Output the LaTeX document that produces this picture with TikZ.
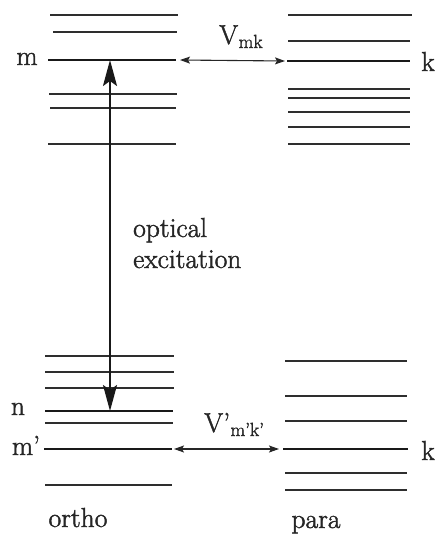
\documentclass[tikz,border=0pt]{standalone}
\usepackage{fontspec}
\setmainfont{Latin Modern Roman}[FakeBold=1.6]
\usetikzlibrary{arrows.meta}
\begin{document}
\begin{tikzpicture}[x=1pt,y=-1pt,
  lvl/.style={line width=1.6pt, black!82},
  mainlvl/.style={line width=2.2pt, black!90},
  harrow/.style={line width=1.1pt, black!85, {Stealth[length=10pt,width=7pt,inset=2pt]}-{Stealth[length=10pt,width=7pt,inset=2pt]}},
  varrow/.style={line width=2pt, black!90, {Stealth[length=26pt,width=14pt,inset=5pt]}-{Stealth[length=26pt,width=14pt,inset=5pt]}},
  lbl/.style={font=\fontsize{27.5}{31}\selectfont, inner sep=0pt, anchor=base, text=black!85},
  sub/.style={font=\fontsize{19}{21}\selectfont, inner sep=0pt, anchor=base west, text=black!85}]
\useasboundingbox (0,0) rectangle (436,544);
% ortho levels
\foreach \y/\a/\b in {15/50/178, 32/53/177, 94/49/177, 108/50/176, 144/48/176,
                      356/45/174, 372/45/174, 388/45/174, 423/45/173, 485/45/172}
  \draw[lvl] (\a,\y) -- (\b,\y);
% para levels
\foreach \y/\a/\b in {15/288/412, 41/288/410, 89/288/410, 98/288/410, 112/288/410, 127/288/410, 144/288/410,
                      361/285/407, 396/285/407, 421/285/407, 473/285/407, 490/285/407}
  \draw[lvl] (\a,\y) -- (\b,\y);
% labelled levels
\coordinate (mL) at (48,60);  \coordinate (mR) at (176,60);
\coordinate (kL) at (287,61); \coordinate (kR) at (410,61);
\coordinate (nL) at (45,411); \coordinate (nR) at (173,411);
\coordinate (m2L) at (44,449); \coordinate (m2R) at (172,449);
\coordinate (k2L) at (283,449); \coordinate (k2R) at (408,449);
\draw[mainlvl] (mL) -- (mR);
\draw[mainlvl] (kL) -- (kR);
\draw[mainlvl] (nL) -- (nR);
\draw[mainlvl] (m2L) -- (m2R);
\draw[mainlvl] (k2L) -- (k2R);
% couplings
\draw[harrow] ([xshift=4pt]mR) -- ([xshift=-2pt]kL);
\draw[harrow] ([xshift=2pt]m2R) -- ([xshift=-4pt]k2L);
% optical excitation
\coordinate (exTop) at (110,60);
\coordinate (exBot) at (110,411);
\draw[varrow] (exTop) -- (exBot);
% labels
\node[lbl] (lm) at (27,65) {m};
\node[lbl] (lk) at (428,71) {k};
\node[lbl] (ln) at (18,415) {n};
\node[lbl] (lm2) at (26,455) {m’};
\node[lbl] (lk2) at (428,460) {k};
\node[lbl, anchor=base west] (V1) at (219,44) {V};
\node[sub] (V1s) at (V1.base east) [yshift=-4pt] {mk};
\node[lbl, anchor=base west] (V2) at (204,432) {V’};
\node[sub] (V2s) at (V2.base east) [yshift=-4pt] {m’k’};
\node[lbl, anchor=base west] (opt) at (133,237) {optical};
\node[lbl, anchor=base west] (exc) at (133,268) {excitation};
\node[lbl] (ortho) at (78,527) {ortho};
\node[lbl] (para) at (316,528) {para};
\end{tikzpicture}
\end{document}
